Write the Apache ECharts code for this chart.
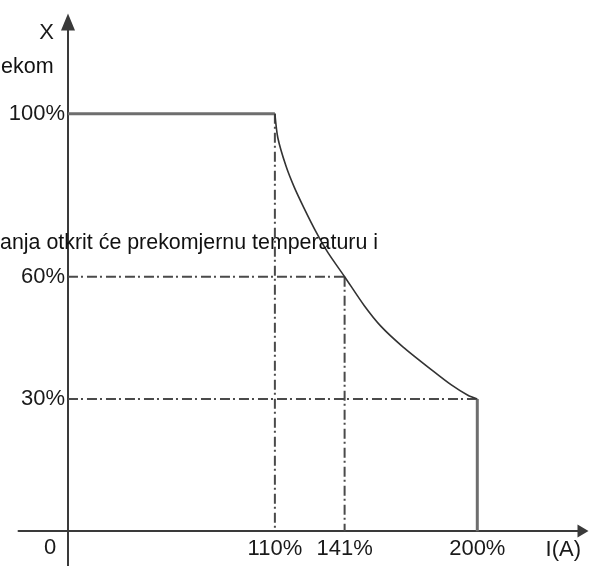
<!DOCTYPE html>
<html>
<head>
<meta charset="utf-8">
<script src="https://cdn.jsdelivr.net/npm/echarts@6/dist/echarts.min.js"></script>
<style>html,body{margin:0;padding:0;background:#fff;}#c{width:589px;height:566px;}</style>
</head>
<body>
<div id="c"></div>
<script>
// ---- data ----
const xMin = -4, xMax = 247;      // I axis range (drawing is a schematic with a broken axis)
const yMin = -11, yMax = 122.5;   // X axis range
const originI = 18;               // where the X axis stands (origin labelled "0")
const originX = -2.5;             // where the I axis stands
const xTicks = [110, 141, 200];
const yTicks = [100, 60, 30];
const curveI = [110, 111.3, 114.9, 118.5, 122.9, 128.3, 133.6, 141, 149.6, 157.2, 166.9, 180.7, 188.3, 195.8, 200];
const curveX = [100, 94.1, 87.2, 82.1, 76.9, 71.0, 65.9, 60, 53.0, 47.8, 42.8, 36.7, 33.5, 30.9, 30];
const flatTop = [[originI, 100], [110, 100]];
const dropEnd = [[200, 30], [200, originX]];
const guide60 = [[originI, 60], [141, 60]];
const guide30 = [[originI, 30], [200, 30]];
const guide110 = [[110, 100], [110, originX]];
const guide141 = [[141, 60], [141, originX]];
const overlayTop = 'ekom';
const overlayMid = 'anja otkrit će prekomjernu temperaturu i';

const FONT = 'Liberation Sans, Arial, sans-serif';
const chart = echarts.init(document.getElementById('c'), null, {renderer: 'canvas'});
const dashDot = {color: '#4a4a4a', width: 2, type: [10, 3, 2, 4]};
const lineSeries = (data, style, z) => ({
  type: 'line', data: data, symbol: 'none', silent: true, lineStyle: style, z: z || 2, animation: false
});
chart.setOption({
  animation: false,
  backgroundColor: '#fff',
  grid: {left: 18.5, right: 6, top: 22, bottom: 0, containLabel: false, outerBoundsMode: 'none'},
  xAxis: {
    type: 'value', min: xMin, max: xMax, offset: -35,
    name: 'I(A)', nameLocation: 'end', nameGap: -2,
    nameTextStyle: {fontFamily: FONT, fontSize: 22, color: '#1a1a1a', align: 'right', verticalAlign: 'top', padding: [8, 0, 0, 0]},
    axisLine: {onZero: false, lineStyle: {color: '#3a3a3a', width: 2}, symbol: ['none', 'triangle'], symbolSize: [13, 11]},
    axisTick: {show: false},
    splitLine: {show: false},
    axisLabel: {customValues: xTicks, formatter: v => v + '%', fontFamily: FONT, fontSize: 22, color: '#1a1a1a', margin: 7}
  },
  yAxis: {
    type: 'value', min: yMin, max: yMax, offset: -49.5,
    name: 'X', nameLocation: 'end', nameGap: -22,
    nameTextStyle: {fontFamily: FONT, fontSize: 22, color: '#1a1a1a', align: 'right', verticalAlign: 'bottom', padding: [0, 14, 0, 0]},
    axisLine: {onZero: false, lineStyle: {color: '#3a3a3a', width: 2}, symbol: ['none', 'triangle'], symbolSize: [14, 17]},
    axisTick: {show: false},
    splitLine: {show: false},
    axisLabel: {customValues: yTicks, formatter: v => v + '%', fontFamily: FONT, fontSize: 22, color: '#1a1a1a', margin: 3}
  },
  series: [
    lineSeries(guide60, dashDot),
    lineSeries(guide30, dashDot),
    lineSeries(guide110, dashDot),
    lineSeries(guide141, dashDot),
    lineSeries(flatTop, {color: '#6e6e6e', width: 3}, 3),
    lineSeries(dropEnd, {color: '#6e6e6e', width: 3}, 3),
    Object.assign(lineSeries(curveI.map((v, i) => [v, curveX[i]]), {color: '#333', width: 1.6}, 4), {smooth: 0.25})
  ],
  graphic: [
    {type: 'text', left: 44, top: 537, style: {text: '0', font: '22px ' + FONT, fill: '#1a1a1a'}},
    {type: 'text', left: 1, top: 56, style: {text: overlayTop, font: '21.5px ' + FONT, fill: '#111'}, z: 10},
    {type: 'text', left: 0, top: 233, style: {text: overlayMid, font: '21.4px ' + FONT, fill: '#111'}, z: 10}
  ]
});
</script>
</body>
</html>
